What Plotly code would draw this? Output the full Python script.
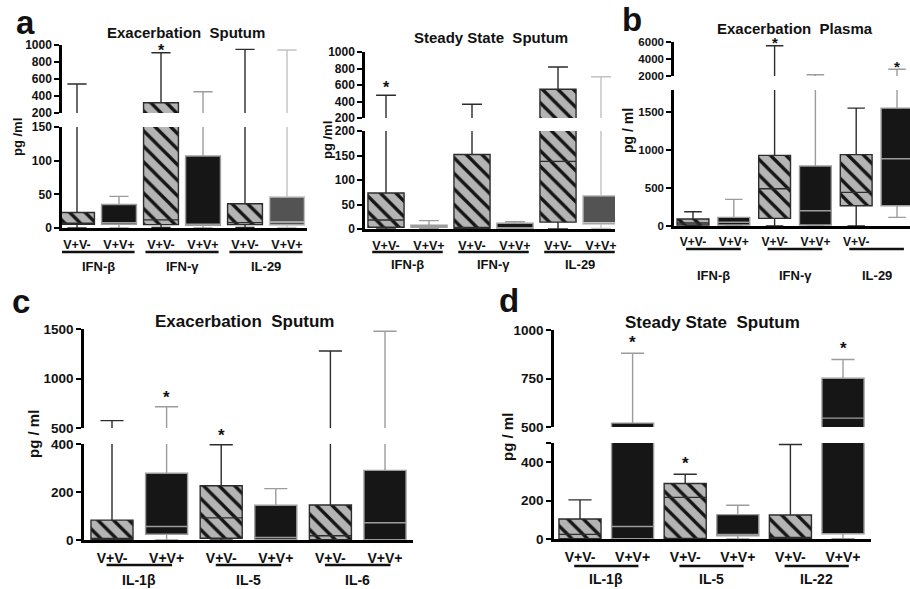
import plotly.graph_objects as go

W, H = 910, 589
FONT = "Liberation Sans, Arial, Helvetica, sans-serif"

# ------------------------------------------------------------------ data
categories = ["V+V-", "V+V+", "V+V-", "V+V+", "V+V-", "V+V+"]

# a (left) : Exacerbation Sputum
a1_groups = ["IFN-β", "IFN-γ", "IL-29"]
a1_lowerfence = [0, 0, 1, 0, 1, 1]
a1_q1 = [5.5, 5.5, 5, 4, 5, 4.5]
a1_median = [7, 8, 12, 5, 8, 9]
a1_q3 = [23, 35, 321, 107, 36, 46]
a1_upperfence = [541, 47, 909, 450, 949, 941]
a1_star = [False, False, True, False, False, False]

# a (right) : Steady State Sputum
a2_groups = ["IFN-β", "IFN-γ", "IL-29"]
a2_lowerfence = [0, 1, 0, 0, 0, 1]
a2_q1 = [3.5, 3.5, 1, 0.5, 14, 10]
a2_median = [18.4, 5, 2, 2, 138, 13]
a2_q3 = [73.5, 8, 152, 11.6, 548, 68]
a2_upperfence = [475, 17, 366, 15, 818, 700]
a2_star = [True, False, False, False, False, False]

# b : Exacerbation Plasma
b_groups = ["IFN-β", "IFN-γ", "IL-29"]
b_lowerfence = [0, 0, 0, 0, 0, 114]
b_q1 = [13, 13, 101, 13, 267, 267]
b_median = [40, 49, 491, 201, 443, 886]
b_q3 = [92, 114, 930, 790, 940, 1551]
b_upperfence = [188, 351, 5563, 2150, 1551, 2788]
b_star = [False, False, True, False, False, True]

# c : Exacerbation Sputum
c_groups = ["IL-1β", "IL-5", "IL-6"]
c_lowerfence = [0, 0, 0, 0, 0, 0]
c_q1 = [2, 24, 7, 2, 1, 1]
c_median = [5, 56, 92, 11, 18, 72]
c_q3 = [83, 278, 226, 145, 146, 290]
c_upperfence = [574, 715, 397, 214, 1278, 1477]
c_star = [False, True, True, False, False, False]

# d : Steady State Sputum
d_groups = ["IL-1β", "IL-5", "IL-22"]
d_lowerfence = [0, 0, 0, 0, 0, 2]
d_q1 = [1, 1, 3, 17, 3, 27]
d_median = [24, 65, 217, 24, 5, 546]
d_q3 = [104, 520, 289, 127, 125, 751]
d_upperfence = [204, 880, 337, 176, 492, 848]
d_star = [False, True, True, False, False, True]

# ------------------------------------------------------------------ layout / style
STYLE = {
    "hatch": dict(bg="#b4b4b4", fg="#141414", line="#2c2c2c", shape="\\"),
    "black": dict(bg="#161616", fg="#161616", line="#9c9c9c", shape=""),
    "gray": dict(bg="#535353", fg="#535353", line="#c2c2c2", shape=""),
}

panels = [
    dict(groups=a1_groups, lo=a1_lowerfence, q1=a1_q1, med=a1_median, q3=a1_q3, hi=a1_upperfence, star=a1_star,
         fills=["hatch", "black", "hatch", "black", "hatch", "gray"],
         xpx=(62, 307), c0=77, sp=42, bw=0.83,
         low_px=(127, 228), low_rng=(0, 150), low_ticks=[0, 50, 100, 150], low_text=None,
         up_px=(45, 113), up_rng=(200, 1000), up_ticks=[200, 400, 600, 800, 1000],
         ytick=12, xtick=12.5, gsize=13, line_y=252, glabel_y=266, hw=0.87, star_shift=2, star_size=16,
         title="Exacerbation\u00a0 Sputum", title_xy=(186, 33), title_size=15,
         ylab="pg /ml", ylab_xy=(18, 137), ylab_size=13,
         letter="a", letter_xy=(25, 22)),
    dict(groups=a2_groups, lo=a2_lowerfence, q1=a2_q1, med=a2_median, q3=a2_q3, hi=a2_upperfence, star=a2_star,
         fills=["hatch", "black", "hatch", "black", "hatch", "gray"],
         xpx=(365, 615), c0=386, sp=43, bw=0.84,
         low_px=(131, 229), low_rng=(0, 200), low_ticks=[0, 50, 100, 150, 200], low_text=None,
         up_px=(52, 118), up_rng=(200, 1000), up_ticks=[200, 400, 600, 800, 1000],
         ytick=12, xtick=12.5, gsize=13, line_y=252, glabel_y=264, hw=0.82, star_shift=8, star_size=16,
         title="Steady State\u00a0 Sputum", title_xy=(491, 37), title_size=15,
         ylab="pg /ml", ylab_xy=(327, 140), ylab_size=13,
         letter=None, letter_xy=None),
    dict(groups=b_groups, lo=b_lowerfence, q1=b_q1, med=b_median, q3=b_q3, hi=b_upperfence, star=b_star,
         fills=["hatch", "black", "hatch", "black", "hatch", "black"],
         xpx=(674, 910), c0=693, sp=40.8, bw=0.78,
         low_px=(90, 226), low_rng=(0, 1790), low_ticks=[0, 500, 1000, 1500], low_text=None,
         up_px=(42, 76), up_rng=(2000, 6000), up_ticks=[2000, 4000, 6000],
         ytick=11.5, xtick=12, gsize=13, line_y=249, glabel_y=275, hw=0.67, star_shift=3, star_size=15,
         title="Exacerbation\u00a0 Plasma", title_xy=(795, 28), title_size=15,
         ylab="pg / ml", ylab_xy=(628, 131), ylab_size=14,
         letter="b", letter_xy=(632, 20)),
    dict(groups=c_groups, lo=c_lowerfence, q1=c_q1, med=c_median, q3=c_q3, hi=c_upperfence, star=c_star,
         fills=["hatch", "black", "hatch", "black", "hatch", "black"],
         xpx=(84, 413), c0=112, sp=54.6, bw=0.77,
         low_px=(444, 540), low_rng=(0, 400), low_ticks=[0, 200, 400], low_text=None,
         up_px=(329, 428), up_rng=(500, 1500), up_ticks=[500, 1000, 1500],
         ytick=13.5, xtick=14, gsize=14, line_y=565, glabel_y=580, hw=0.6, star_shift=9, star_size=17,
         title="Exacerbation\u00a0 Sputum", title_xy=(244, 321), title_size=17,
         ylab="pg / ml", ylab_xy=(33, 434), ylab_size=15,
         letter="c", letter_xy=(21, 301)),
    dict(groups=d_groups, lo=d_lowerfence, q1=d_q1, med=d_median, q3=d_q3, hi=d_upperfence, star=d_star,
         fills=["hatch", "black", "hatch", "black", "hatch", "black"],
         xpx=(554, 871), c0=580, sp=52.6, bw=0.8,
         low_px=(443, 539), low_rng=(0, 500), low_ticks=[0, 200, 400, 500], low_text=["0", "200", "400", ""],
         up_px=(330, 427), up_rng=(500, 1000), up_ticks=[500, 750, 1000],
         ytick=13.5, xtick=14, gsize=14, line_y=566, glabel_y=579, hw=0.61, star_shift=11, star_size=17,
         title="Steady State\u00a0 Sputum", title_xy=(712, 322), title_size=17,
         ylab="pg / ml", ylab_xy=(507, 437), ylab_size=15,
         letter="d", letter_xy=(509, 300)),
]


def xd(px):
    return px / W


def yd(py):
    return 1 - py / H


fig = go.Figure()
layout = dict(template="none", width=W, height=H, margin=dict(l=0, r=0, t=0, b=0, pad=0, autoexpand=False),
              autosize=False, plot_bgcolor="white", paper_bgcolor="white", barmode="overlay",
              showlegend=False, font=dict(family=FONT, color="#111"))
annotations, shapes = [], []

for p, P in enumerate(panels, start=1):
    xn = "x" if p == 1 else f"x{p}"
    ylo_i, yup_i = 2 * p - 1, 2 * p
    ylo = "y" if ylo_i == 1 else f"y{ylo_i}"
    yup = f"y{yup_i}"
    x0, x1 = P["xpx"]
    xr = [(x0 - P["c0"]) / P["sp"], (x1 - P["c0"]) / P["sp"]]
    pos = list(range(len(categories)))

    layout["xaxis" if p == 1 else f"xaxis{p}"] = dict(
        domain=[xd(x0), min(1.0, xd(x1))], range=xr, anchor=ylo, showgrid=False, zeroline=False,
        automargin=False, showline=True, linecolor="black", linewidth=2.5, tickvals=pos, ticktext=categories,
        ticks="outside", ticklen=3, tickcolor="rgba(0,0,0,0)",
        tickfont=dict(family=FONT, size=P["xtick"], color="#111", weight="bold"), fixedrange=True)
    yax = dict(showgrid=False, zeroline=False, showline=True, linecolor="black", linewidth=2.5,
               automargin=False, ticks="outside", ticklen=5, tickwidth=2, tickcolor="black", anchor=xn,
               tickfont=dict(family=FONT, size=P["ytick"], color="#111", weight="bold"), fixedrange=True)
    lo_axis = dict(yax, domain=[yd(P["low_px"][1]), yd(P["low_px"][0])], range=list(P["low_rng"]),
                   tickvals=P["low_ticks"])
    if P["low_text"]:
        lo_axis["ticktext"] = P["low_text"]
    layout["yaxis" if ylo_i == 1 else f"yaxis{ylo_i}"] = lo_axis
    layout[f"yaxis{yup_i}"] = dict(yax, domain=[yd(P["up_px"][1]), yd(P["up_px"][0])],
                                   range=list(P["up_rng"]), tickvals=P["up_ticks"])

    for i in pos:
        st = STYLE[P["fills"][i]]
        for ya in (ylo, yup):
            fig.add_trace(go.Bar(
                x=[i], y=[P["q3"][i] - P["q1"][i]], base=[P["q1"][i]], width=P["bw"],
                marker=dict(color=st["bg"], line=dict(width=0),
                            pattern=dict(shape=st["shape"], fgcolor=st["fg"], bgcolor=st["bg"],
                                         size=11, solidity=0.3)),
                xaxis=xn, yaxis=ya, hoverinfo="skip", showlegend=False))
            fig.add_trace(go.Box(
                x=[i], q1=[P["q1"][i]], median=[P["med"][i]], q3=[P["q3"][i]],
                lowerfence=[P["lo"][i]], upperfence=[P["hi"][i]], orientation="v",
                width=P["bw"], whiskerwidth=0.55, fillcolor="rgba(0,0,0,0)",
                line=dict(color=st["line"], width=1.4), boxpoints=False,
                xaxis=xn, yaxis=ya, hoverinfo="skip", showlegend=False))
        if P["star"][i]:
            v = P["hi"][i]
            ya = yup if v > P["low_rng"][1] else ylo
            annotations.append(dict(x=i, y=v, xref=xn, yref=ya, text="*", showarrow=False,
                                    xanchor="center", yanchor="middle", yshift=P["star_shift"],
                                    font=dict(family=FONT, size=P["star_size"], color="#111",
                                              weight="bold")))

    for g, name in enumerate(P["groups"]):
        cx = 2 * g + 0.5
        shapes.append(dict(type="line", xref=xn, yref="paper", x0=cx - P["hw"], x1=cx + P["hw"],
                           y0=yd(P["line_y"]), y1=yd(P["line_y"]), line=dict(color="#111", width=2.5)))
        annotations.append(dict(x=cx, y=yd(P["glabel_y"]), xref=xn, yref="paper", text=name,
                                showarrow=False, xanchor="center", yanchor="middle",
                                font=dict(family=FONT, size=P["gsize"], color="#111", weight="bold")))

    annotations.append(dict(x=xd(P["title_xy"][0]), y=yd(P["title_xy"][1]), xref="paper", yref="paper",
                            text=P["title"], showarrow=False, xanchor="center", yanchor="middle",
                            font=dict(family=FONT, size=P["title_size"], color="#111", weight="bold")))
    annotations.append(dict(x=xd(P["ylab_xy"][0]), y=yd(P["ylab_xy"][1]), xref="paper", yref="paper",
                            text=P["ylab"], showarrow=False, textangle=-90, xanchor="center",
                            yanchor="middle",
                            font=dict(family=FONT, size=P["ylab_size"], color="#111", weight="bold")))
    if P["letter"]:
        annotations.append(dict(x=xd(P["letter_xy"][0]), y=yd(P["letter_xy"][1]), xref="paper",
                                yref="paper", text=P["letter"], showarrow=False, xanchor="center",
                                yanchor="middle",
                                font=dict(family=FONT, size=33, color="#111", weight="bold")))

layout["annotations"] = annotations
layout["shapes"] = shapes
fig.update_layout(**layout)
fig.write_html("out.html", config={"displayModeBar": False},
               post_script="document.body.style.margin='0';document.body.style.overflow='hidden';")
